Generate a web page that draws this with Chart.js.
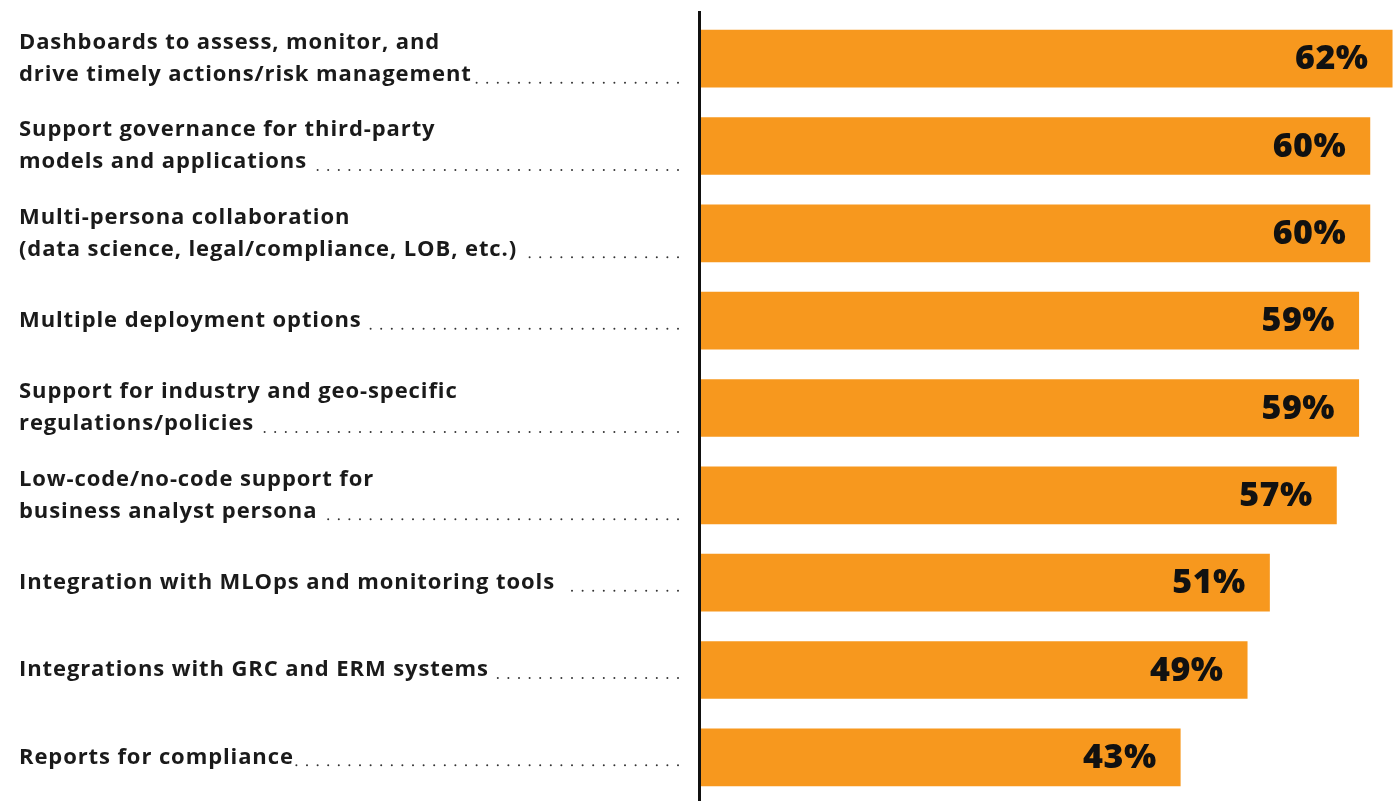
<!DOCTYPE html>
<html>
<head>
<meta charset="utf-8">
<script src="https://cdn.jsdelivr.net/npm/chart.js@4.4.1/dist/chart.umd.min.js"></script>
<style>
  body { margin: 0; background: #fff; }
  #wrap { width: 1397px; height: 801px; position: relative; }
</style>
</head>
<body>
<div id="wrap"><canvas id="chart"></canvas></div>
<script>
// categories (one array of lines per bar)
const categories = [
  ["Dashboards to assess, monitor, and", "drive timely actions/risk management"],
  ["Support governance for third-party", "models and applications"],
  ["Multi-persona collaboration", "(data science, legal/compliance, LOB, etc.) "],
  ["Multiple deployment options"],
  ["Support for industry and geo-specific", "regulations/policies"],
  ["Low-code/no-code support for", "business analyst persona "],
  ["Integration with MLOps and monitoring tools "],
  ["Integrations with GRC and ERM systems "],
  ["Reports for compliance"]
];
const values = [62, 60, 60, 59, 59, 57, 51, 49, 43];
const valueLabels = ["62%", "60%", "60%", "59%", "59%", "57%", "51%", "49%", "43%"];

const labelFont = "bold 22px 'Open Sans'";
const valueFont = "800 34px 'Open Sans'";

// left labels with dotted leaders, axis line, and value text inside bars
const decorations = {
  id: "decorations",
  afterDatasetsDraw(chart) {
    const ctx = chart.ctx;
    const area = chart.chartArea;
    const yScale = chart.scales.y;
    const bars = chart.getDatasetMeta(0).data;

    ctx.save();
    // axis line
    ctx.strokeStyle = "#111";
    ctx.lineWidth = 3;
    ctx.beginPath();
    ctx.moveTo(area.left - 1.5, 11);
    ctx.lineTo(area.left - 1.5, 801);
    ctx.stroke();

    const lineH = 32;
    categories.forEach((lines, i) => {
      const cy = yScale.getPixelForValue(i);
      const firstY = cy - (lines.length - 1) * lineH / 2;
      ctx.font = labelFont;
      ctx.letterSpacing = "0.9px";
      ctx.fillStyle = "#1a1a1a";
      ctx.textAlign = "left";
      ctx.textBaseline = "middle";
      lines.forEach((t, j) => ctx.fillText(t, 19, firstY + j * lineH));

      // dotted leader after the last line
      const last = lines[lines.length - 1];
      const endX = 19 + ctx.measureText(last).width;
      const dotY = firstY + (lines.length - 1) * lineH + 8;
      ctx.fillStyle = "#333";
      for (let x = 678; x > endX + 1; x -= 10.6) {
        ctx.beginPath();
        ctx.arc(x, dotY, 1, 0, Math.PI * 2);
        ctx.fill();
      }

      // value label
      const bar = bars[i];
      ctx.font = valueFont;
      ctx.letterSpacing = "0.5px";
      ctx.fillStyle = "#111";
      ctx.textAlign = "right";
      ctx.fillText(valueLabels[i], bar.x - 24, bar.y + 1);
    });
    ctx.restore();
  }
};

new Chart(document.getElementById("chart"), {
  type: "bar",
  data: {
    labels: categories,
    datasets: [{
      data: values,
      backgroundColor: "#F7981E",
      borderWidth: 0,
      barPercentage: 0.66,
      categoryPercentage: 1
    }]
  },
  options: {
    indexAxis: "y",
    responsive: true,
    maintainAspectRatio: false,
    animation: false,
    layout: { padding: { left: 701, top: 15, right: 0, bottom: 0 } },
    plugins: { legend: { display: false }, tooltip: { enabled: false } },
    scales: {
      x: { display: false, min: 0, max: 62.4 },
      y: { display: false }
    }
  },
  plugins: [decorations]
});
</script>
</body>
</html>
